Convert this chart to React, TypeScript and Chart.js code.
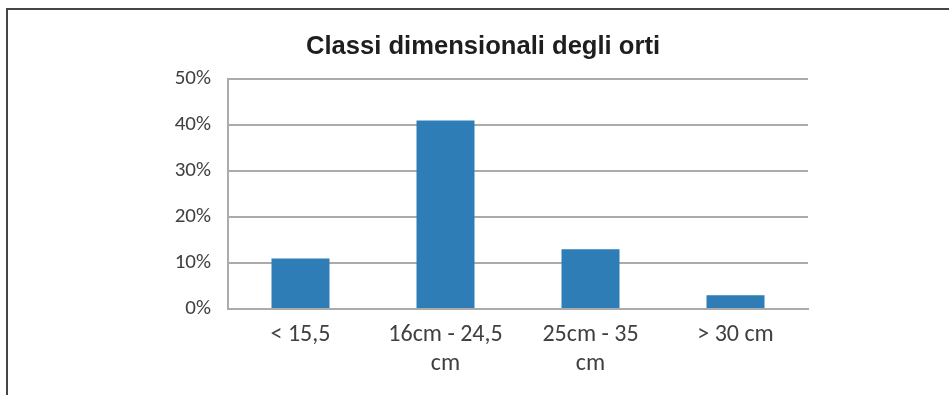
import React, { useEffect, useRef } from "react";
import { Chart, registerables } from "chart.js";

Chart.register(...registerables);

// Size classes of the garden plots (multi-line tick labels)
const categories: string[][] = [["< 15,5"], ["16cm - 24,5", "cm"], ["25cm - 35", "cm"], ["> 30 cm"]];
// Share of plots in each class, in percent
const shares: number[] = [11, 41, 13, 3];
// Value axis ticks
const yMax = 50;
const yStep = 10;

const chartTitle = "Classi dimensionali degli orti";

const labelFont = "Carlito, 'Open Sans', Lato, sans-serif";

// White background, the top and left frame lines, and the chart title
const frame = {
  id: "frame",
  beforeDraw(chart: Chart) {
    const { ctx, width, height } = chart;
    ctx.save();
    ctx.fillStyle = "#ffffff";
    ctx.fillRect(0, 0, width, height);
    ctx.fillStyle = "#454545";
    ctx.fillRect(6, 8, width - 6, 2);
    ctx.fillRect(6, 8, 2, height - 8);
    ctx.restore();
  },
  afterDraw(chart: Chart) {
    const { ctx, chartArea } = chart;
    ctx.save();
    ctx.fillStyle = "#1e1e1e";
    ctx.font = "bold 25.6px 'Liberation Sans', Arial, sans-serif";
    ctx.textAlign = "center";
    ctx.textBaseline = "middle";
    // centred over the chart box (left padding edge to plot right edge)
    const cx = (158 + chartArea.right) / 2;
    ctx.fillText(chartTitle, cx, 47);
    ctx.restore();
  },
};

export default function App() {
  const ref = useRef<HTMLCanvasElement | null>(null);

  useEffect(() => {
    if (!ref.current) return;
    const chart = new Chart(ref.current, {
      type: "bar",
      data: {
        labels: categories,
        datasets: [
          {
            data: shares,
            backgroundColor: "#2E7DB7",
            borderWidth: 0,
            barPercentage: 0.4,
            categoryPercentage: 1,
          },
        ],
      },
      options: {
        animation: false,
        responsive: true,
        maintainAspectRatio: false,
        layout: { padding: { left: 158, right: 141, top: 79, bottom: 0 } },
        plugins: {
          legend: { display: false },
          tooltip: { enabled: false },
          title: { display: false },
        },
        scales: {
          x: {
            grid: { display: false, drawTicks: false },
            border: { display: true, color: "#ABABAB", width: 2 },
            ticks: {
              color: "#404040",
              font: { family: labelFont, size: 24, lineHeight: 1.2 },
              padding: 12,
              maxRotation: 0,
              autoSkip: false,
            },
            afterFit: (scale: any) => {
              scale.height = 86;
            },
          },
          y: {
            min: 0,
            max: yMax,
            grid: { color: "#ABABAB", lineWidth: 2, drawTicks: false },
            border: { display: true, color: "#ABABAB", width: 2 },
            ticks: {
              stepSize: yStep,
              color: "#404040",
              font: { family: labelFont, size: 21 },
              padding: 17,
              callback: (v: any) => `${v}%`,
            },
            afterFit: (scale: any) => {
              scale.width = 70;
            },
          },
        },
      },
      plugins: [frame],
    });
    return () => chart.destroy();
  }, []);

  return (
    <div style={{ position: "fixed", left: 0, top: 0, width: 949, height: 395, background: "#fff" }}>
      <canvas ref={ref} />
    </div>
  );
}
